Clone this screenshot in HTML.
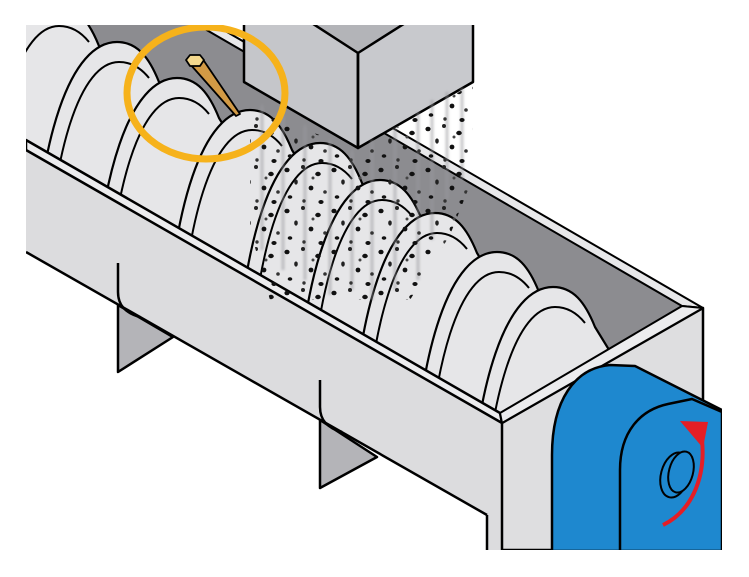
<!DOCTYPE html>
<html><head><meta charset="utf-8"><style>
html,body{margin:0;padding:0;background:#fff;width:749px;height:577px;overflow:hidden}
svg{display:block}
</style></head><body>
<svg width="749" height="577" viewBox="0 0 749 577" xmlns="http://www.w3.org/2000/svg">
<defs>
<clipPath id="frame"><rect x="26" y="25" width="696" height="525"/></clipPath>
<clipPath id="inner"><polygon points="26,25 198,25 682,306 500,413 26,140"/></clipPath>
<pattern id="dots" x="0" y="0" width="47" height="41" patternUnits="userSpaceOnUse">
<ellipse cx="5" cy="6" rx="2.6" ry="2.3" fill="#111"/>
<ellipse cx="21" cy="3" rx="2" ry="2" fill="#222"/>
<ellipse cx="36" cy="10" rx="2.8" ry="2.2" fill="#111"/>
<ellipse cx="14" cy="18" rx="1.8" ry="2.6" fill="#222"/>
<ellipse cx="29" cy="24" rx="2.4" ry="2.4" fill="#111"/>
<ellipse cx="43" cy="28" rx="1.8" ry="1.8" fill="#333"/>
<ellipse cx="8" cy="33" rx="2.3" ry="1.8" fill="#111"/>
<ellipse cx="22" cy="37" rx="1.7" ry="1.7" fill="#333"/>
<ellipse cx="39" cy="38" rx="2.6" ry="2" fill="#111"/>
<ellipse cx="31" cy="14" rx="1.5" ry="1.5" fill="#444"/>
</pattern>
<filter id="blur"><feGaussianBlur stdDeviation="1.2"/></filter>
</defs>
<g clip-path="url(#frame)" stroke-linejoin="round">
<polygon points="26,25 198,25 682,306 500,413 26,140" fill="#8c8c90"/>
<g clip-path="url(#inner)" stroke="#000">
<path d="M-3,-30 c20,0 32,15 42,40 l178,290 h-305 l0,-70 c5,-170 40,-260 85,-260 z" fill="#e6e6e8" stroke-width="2.2"/>
<path d="M-75,230 c6,-155 36,-240 74,-240 c12,0 22,6 30,16" fill="none" stroke-width="2"/>
<path d="M57,6 c20,0 32,15 42,40 l178,290 h-305 l0,-70 c5,-170 40,-260 85,-260 z" fill="#e6e6e8" stroke-width="2.2"/>
<path d="M-15,266 c6,-155 36,-240 74,-240 c12,0 22,6 30,16" fill="none" stroke-width="2"/>
<path d="M117,42 c20,0 32,15 42,40 l178,290 h-305 l0,-70 c5,-170 40,-260 85,-260 z" fill="#e6e6e8" stroke-width="2.2"/>
<path d="M45,302 c6,-155 36,-240 74,-240 c12,0 22,6 30,16" fill="none" stroke-width="2"/>
<path d="M177,78 c20,0 32,15 42,40 l178,290 h-305 l0,-70 c5,-170 40,-260 85,-260 z" fill="#e6e6e8" stroke-width="2.2"/>
<path d="M105,338 c6,-155 36,-240 74,-240 c12,0 22,6 30,16" fill="none" stroke-width="2"/>
<path d="M250,110 c20,0 32,15 42,40 l178,290 h-305 l0,-70 c5,-170 40,-260 85,-260 z" fill="#e6e6e8" stroke-width="2.2"/>
<path d="M178,370 c6,-155 36,-240 74,-240 c12,0 22,6 30,16" fill="none" stroke-width="2"/>
<path d="M320,143 c20,0 32,15 42,40 l178,290 h-305 l0,-70 c5,-170 40,-260 85,-260 z" fill="#e6e6e8" stroke-width="2.2"/>
<path d="M248,403 c6,-155 36,-240 74,-240 c12,0 22,6 30,16" fill="none" stroke-width="2"/>
<path d="M380,180 c20,0 32,15 42,40 l178,290 h-305 l0,-70 c5,-170 40,-260 85,-260 z" fill="#e6e6e8" stroke-width="2.2"/>
<path d="M308,440 c6,-155 36,-240 74,-240 c12,0 22,6 30,16" fill="none" stroke-width="2"/>
<path d="M435,213 c20,0 32,15 42,40 l178,290 h-305 l0,-70 c5,-170 40,-260 85,-260 z" fill="#e6e6e8" stroke-width="2.2"/>
<path d="M363,473 c6,-155 36,-240 74,-240 c12,0 22,6 30,16" fill="none" stroke-width="2"/>
<path d="M497,252 c20,0 32,15 42,40 l178,290 h-305 l0,-70 c5,-170 40,-260 85,-260 z" fill="#e6e6e8" stroke-width="2.2"/>
<path d="M425,512 c6,-155 36,-240 74,-240 c12,0 22,6 30,16" fill="none" stroke-width="2"/>
<path d="M553,287 c20,0 32,15 42,40 l178,290 h-305 l0,-70 c5,-170 40,-260 85,-260 z" fill="#e6e6e8" stroke-width="2.2"/>
<path d="M481,547 c6,-155 36,-240 74,-240 c12,0 22,6 30,16" fill="none" stroke-width="2"/>
</g>
<polygon points="198,25 215,25 703,308 682,306" fill="#e8e8ea" stroke="#000" stroke-width="2"/>
<polygon points="26,140 502,423 502,550 487,550 487,515 26,252" fill="#dcdcde"/>
<polygon points="26,140 500,413 502,423 26,150" fill="#ececee" stroke="#000" stroke-width="2.5"/>
<line x1="26" y1="252" x2="487" y2="515" stroke="#000" stroke-width="2.5"/>
<polygon points="118,305 118,372 173,337" fill="#b4b4b8" stroke="#000" stroke-width="2.5"/>
<path d="M118,263 L118,292 C118,305 125,313 140,317" fill="none" stroke="#000" stroke-width="2.5"/>
<polygon points="320,420 320,488 377,457" fill="#b4b4b8" stroke="#000" stroke-width="2.5"/>
<path d="M320,380 L320,407 C320,420 327,428 342,432" fill="none" stroke="#000" stroke-width="2.5"/>
<polygon points="502,423 703,308 703,550 502,550" fill="#dedee0" stroke="#000" stroke-width="2.5"/>
<polygon points="500,413 682,306 703,308 502,423" fill="#ececee" stroke="#000" stroke-width="2"/>
<line x1="487" y1="515" x2="487" y2="550" stroke="#000" stroke-width="2.5"/>
<path d="M552,551 L552,455 C552,400 575,368 610,365 L635,366 L722,410 L722,551 Z" fill="#1e88cf" stroke="#000" stroke-width="2.5"/>
<path d="M620,551 L620,470 C620,432 640,410 668,404 L692,399 L722,412 L722,551 Z" fill="#1e88cf" stroke="#000" stroke-width="2.5"/>
<ellipse cx="675" cy="475" rx="14" ry="23" transform="rotate(15 675 475)" fill="#1e88cf" stroke="#000" stroke-width="2"/>
<ellipse cx="681" cy="472" rx="12" ry="21" transform="rotate(15 681 472)" fill="#1e88cf" stroke="#000" stroke-width="2"/>
<path d="M663,525 C690,512 706,480 702,440" fill="none" stroke="#e41e26" stroke-width="4"/>
<polygon points="680,421 708,422 703,448" fill="#e41e26"/>
<polygon points="244,20 358,20 358,148 244,82" fill="#c5c6ca" stroke="#000" stroke-width="2.5"/>
<polygon points="358,20 473,20 473,82 358,148" fill="#c8c9cd" stroke="#000" stroke-width="2.5"/>
<polygon points="307,20 358,53 410,20" fill="#b3b4b8" stroke="#000" stroke-width="2.5"/>
<line x1="358" y1="53" x2="358" y2="148" stroke="#000" stroke-width="2.5"/>
<g stroke="#9a9a9e" stroke-width="3" opacity="0.55" filter="url(#blur)">
<line x1="262" y1="105" x2="262" y2="250"/><line x1="283" y1="115" x2="283" y2="270"/>
<line x1="305" y1="125" x2="305" y2="280"/><line x1="330" y1="140" x2="330" y2="295"/>
<line x1="352" y1="150" x2="352" y2="290"/><line x1="372" y1="140" x2="372" y2="300"/>
<line x1="395" y1="128" x2="395" y2="290"/><line x1="418" y1="112" x2="418" y2="280"/>
<line x1="432" y1="100" x2="432" y2="240"/><line x1="447" y1="92" x2="447" y2="200"/>
<line x1="462" y1="88" x2="462" y2="180"/>
</g>
<polygon points="250,108 358,150 473,84 472,180 450,235 410,300 270,300 250,230" fill="url(#dots)"/>
<polygon points="190,64 202,58 240,114 236,116" fill="#d29a45" stroke="#000" stroke-width="1.8"/>
<polygon points="186,60 190,55 200,55 204,60 200,66 190,66" fill="#f5d98e" stroke="#000" stroke-width="1.8"/>
<ellipse cx="206" cy="93" rx="79" ry="66" fill="none" stroke="#f6b21b" stroke-width="7"/>
</g>
</svg>
</body></html>
